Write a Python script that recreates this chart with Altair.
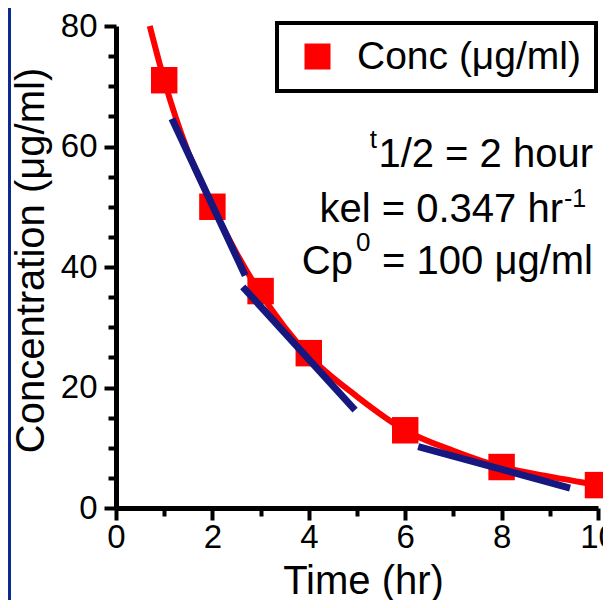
import altair as alt
import pandas as pd

# ---- data ----
point_time = [1, 2, 3, 4, 6, 8, 10]
point_conc = [71, 50, 36, 25.7, 12.9, 6.8, 3.8]

fit_time = [0.7, 1, 1.5, 2, 2.5, 3, 3.5, 4, 5, 6, 7, 8, 9, 10]
fit_conc = [80, 71, 59, 50.2, 42.3, 35.6, 30, 25.3, 18.5, 12.9, 9.5, 6.8, 5.2, 3.8]

tangent_id = ["a", "a", "b", "b", "c", "c"]
tangent_time = [1.16, 2.68, 2.63, 4.96, 6.27, 9.42]
tangent_conc = [64.6, 38.6, 36.7, 16.25, 10.2, 3.3]

series_name = "Conc (μg/ml)"
x_ticks = list(range(0, 11))
y_ticks = list(range(0, 81, 5))

FONT = "Liberation Sans"
RED = "#ff0000"
NAVY = "#16177f"
BORDER = "#0c2a8f"

points_df = pd.DataFrame({"t": point_time, "c": point_conc, "series": [series_name] * len(point_time)})
fit_df = pd.DataFrame({"t": fit_time, "c": fit_conc})
tan_df = pd.DataFrame({"seg": tangent_id, "t": tangent_time, "c": tangent_conc})
one = pd.DataFrame({"k": [0]})

x_scale = alt.Scale(domain=[0, 10], nice=False, zero=False)
y_scale = alt.Scale(domain=[0, 80], nice=False, zero=False)

x_axis = alt.Axis(
    values=x_ticks,
    labelExpr="datum.value % 2 === 0 ? datum.label : ''",
    title="Time (hr)",
    grid=False,
    domainWidth=5, domainColor="black",
    tickColor="black", tickWidth=4,
    tickSize={"condition": {"test": "datum.value % 2 === 0", "value": 12}, "value": 8},
    labelFontSize=33, labelFont=FONT, labelColor="black", labelPadding=1,
    labelOverlap=False, labelFlush=False,
    titleFontSize=40, titleFont=FONT, titleFontWeight="normal", titleColor="black",
    titleX=247, titleY=85, titleBaseline="alphabetic", titleAlign="center",
)
y_axis = alt.Axis(
    values=y_ticks,
    labelExpr="datum.value % 20 === 0 ? datum.label : ''",
    title="Concentration (μg/ml)",
    grid=False,
    domainWidth=5, domainColor="black",
    tickColor="black", tickWidth=4,
    tickSize={"condition": {"test": "datum.value % 20 === 0", "value": 12}, "value": 8},
    labelFontSize=33, labelFont=FONT, labelColor="black", labelPadding=7,
    labelOverlap=False, labelFlush=False,
    titleFontSize=40, titleFont=FONT, titleFontWeight="normal", titleColor="black",
    titleX=-73, titleY=234, titleAngle=270, titleBaseline="alphabetic", titleAlign="center",
)

X = alt.X("t:Q", scale=x_scale, axis=x_axis)
Y = alt.Y("c:Q", scale=y_scale, axis=y_axis)

stripe = alt.Chart(one).mark_rect(color=BORDER).encode(
    x=alt.value(-108), x2=alt.value(-105), y=alt.value(-18), y2=alt.value(576)
)

fit_line = alt.Chart(fit_df).mark_line(color=RED, strokeWidth=6, interpolate="monotone").encode(
    x=X, y=Y, order="t:Q"
)

squares = alt.Chart(points_df).mark_square(size=700, opacity=1, filled=True).encode(
    x=X, y=Y,
    color=alt.Color(
        "series:N",
        scale=alt.Scale(domain=[series_name], range=[RED]),
        legend=alt.Legend(
            title=None, orient="none", legendX=161, legendY=-3,
            symbolType="square", symbolSize=676, symbolStrokeWidth=0,
            labelFont=FONT, labelFontSize=39, labelColor="black", labelLimit=500,
            strokeColor="black", fillColor="white", padding=14,
            symbolOffset=7, labelOffset=20,
        ),
    ),
)

tangents = alt.Chart(tan_df).mark_line(color=NAVY, strokeWidth=7).encode(
    x=X, y=Y, detail="seg:N", order="t:Q"
)


def txt(s, x, y, size=40, align="right"):
    return alt.Chart(one).mark_text(
        align=align, baseline="alphabetic", font=FONT, fontSize=size, color="black"
    ).encode(x=alt.value(x), y=alt.value(y), text=alt.value(s))


texts = [
    txt("1/2 = 2 hour", 477, 141),
    txt("t", 261, 122, size=26),
    txt("kel = 0.347 hr", 447, 196),
    txt("-1", 448, 181, size=25, align="left"),
    txt("= 100 μg/ml", 477, 248),
    txt("Cp", 237, 248),
    txt("0", 240, 225, size=26, align="left"),
]

chart = alt.layer(stripe, fit_line, squares, tangents, *texts).properties(
    width=482, height=482,
    autosize=alt.AutoSizeParams(type="none"),
    padding={"left": 108, "top": 18, "right": 5, "bottom": 92},
    background="white",
).configure_view(stroke=None).configure_legend(strokeWidth=4)

chart.save("out.html", embed_options={"renderer": "svg", "actions": False})
